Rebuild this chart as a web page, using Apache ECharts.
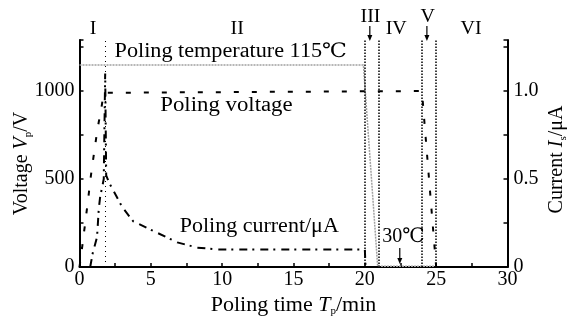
<!DOCTYPE html>
<html><head><meta charset="utf-8">
<script src="https://cdn.jsdelivr.net/npm/echarts@6/dist/echarts.min.js"></script>
<style>html,body{margin:0;padding:0;background:#fff}#c{width:570px;height:320px}</style>
</head><body><div id="c"></div>
<script>
// ---- data ----
const voltageTime   = [0, 0.18, 0.29, 0.41, 0.53, 0.64, 0.76, 0.88, 1.07, 1.18, 1.35, 1.51, 1.7, 1.8, 24, 25];
const voltageValues = [0, 108, 182, 256, 335, 409, 494, 568, 676, 739, 824, 892, 990, 1000, 1000, 0];
const currentTime   = [0.75, 0.93, 1.23, 1.35, 1.45, 1.58, 1.7, 1.8, 1.87, 2.07, 3.0, 3.76, 5.3, 6.85, 8.25, 9.7, 20, 20.05];
const currentValues = [0, 0.08, 0.17, 0.33, 0.40, 0.45, 0.5, 1.1, 0.52, 0.48, 0.34, 0.26, 0.2, 0.14, 0.11, 0.10, 0.10, 0];
const temperatureTime  = [0, 19.9, 20.9, 25];
const temperatureLevel = [1148, 1148, 4, 4];
const phaseBoundaries = [1.8, 20, 21, 24, 25];
const phaseLabels     = ['I', 'II', 'III', 'IV', 'V', 'VI'];
const phaseLabelTime  = [0.95, 11.05, 20.4, 22.2, 24.4, 27.45];
const phaseArrowed    = [false, false, true, false, true, false];
const xTickLabels       = [0, 5, 10, 15, 20, 25, 30];
const voltageTickLabels = [0, 500, 1000];
const currentTickLabels = [0, 0.5, 1.0];

const FONT = '"Liberation Serif", "DejaVu Serif", serif';
const pairs = (xs, ys) => xs.map((x, i) => [x, ys[i]]);
const chart = echarts.init(document.getElementById('c'), null, {renderer: 'canvas'});

const axisCommon = {
  axisLine: {show: true, lineStyle: {color: '#000', width: 2}},
  axisTick: {show: true, inside: true, length: 4, lineStyle: {color: '#000', width: 1.5}},
  splitLine: {show: false},
  nameMoveOverlap: false
};
const nameRich = (size) => ({
  n: {fontFamily: FONT, fontSize: size, color: '#000'},
  i: {fontFamily: FONT, fontSize: size, fontStyle: 'italic', color: '#000'},
  s: {fontFamily: FONT, fontSize: 11, color: '#000', padding: [12, 0, 0, 0]}
});

chart.setOption({
  animation: false,
  backgroundColor: '#fff',
  grid: {left: 79.5, right: 62.5, top: 40, bottom: 53, containLabel: false, outerBoundsMode: 'none'},
  xAxis: Object.assign({
    type: 'value', min: 0, max: 30, interval: 2.5,
    axisLabel: {formatter: v => xTickLabels.includes(v) ? String(v) : '', color: '#000', fontFamily: FONT, fontSize: 20, margin: 3},
    name: '{n|Poling time }{i|T}{s|p}{n|/min}',
    nameLocation: 'middle', nameGap: 27,
    nameTextStyle: {color: '#000', rich: nameRich(22)}
  }, axisCommon),
  yAxis: [
    Object.assign({
      type: 'value', min: 0, max: 1290, interval: 250, position: 'left',
      axisLabel: {formatter: v => voltageTickLabels.includes(v) ? String(v) : '', color: '#000', fontFamily: FONT, fontSize: 20, margin: 5},
      name: '{n|Voltage }{i|V}{s|p}{n|/V}',
      nameLocation: 'middle', nameRotate: 90, nameGap: 46,
      nameTextStyle: {color: '#000', padding: [0, 20, 0, 0], rich: nameRich(20)}
    }, axisCommon),
    Object.assign({
      type: 'value', min: 0, max: 1.29, interval: 0.25, position: 'right',
      axisLabel: {formatter: v => currentTickLabels.includes(v) ? (v === 0 ? '0' : v.toFixed(1)) : '', color: '#000', fontFamily: FONT, fontSize: 20, margin: 6},
      name: '{n|Current }{i|I}{s|s}{n|/μA}',
      nameLocation: 'middle', nameRotate: 90, nameGap: 38,
      nameTextStyle: {color: '#000', padding: [0, 12, 0, 0], rich: nameRich(20)}
    }, axisCommon)
  ],
  series: [
    {
      name: 'Poling temperature', type: 'line', yAxisIndex: 0, symbol: 'none', silent: true,
      data: pairs(temperatureTime, temperatureLevel),
      lineStyle: {color: '#a0a0a0', width: 1.5, type: [2, 1]},
      markLine: {
        silent: true, symbol: 'none', label: {show: false},
        data: phaseBoundaries.map((t, i) => ({xAxis: t,
          lineStyle: {color: '#000', width: i === 0 ? 1 : 1.5, type: i === 0 ? [1, 4] : [1.5, 1.5]}}))
      }
    },
    {
      name: 'Poling voltage', type: 'line', yAxisIndex: 0, symbol: 'none', silent: true,
      data: pairs(voltageTime, voltageValues),
      lineStyle: {color: '#000', width: 2, type: [5, 13]}
    },
    {
      name: 'Poling current', type: 'line', yAxisIndex: 1, symbol: 'none', silent: true,
      data: pairs(currentTime, currentValues),
      lineStyle: {color: '#000', width: 2, type: [8, 5, 2, 6]}
    }
  ]
});

// ---- annotations placed through the axes ----
const px = (t, v) => chart.convertToPixel({gridIndex: 0}, [t, v]);
const graphics = [];
const textAt = (t, v, text, size, sx) => {
  const p = px(t, v);
  graphics.push({type: 'text', x: p[0], y: p[1], scaleX: sx || 1,
    style: {text: text, fill: '#000', font: size + 'px ' + FONT, align: 'center', verticalAlign: 'middle'}});
};
const arrowAt = (t, v1, v2) => {
  const a = px(t, v1), b = px(t, v2);
  graphics.push({type: 'line', shape: {x1: a[0], y1: a[1], x2: b[0], y2: b[1] - 4}, style: {stroke: '#000', lineWidth: 1.2}});
  graphics.push({type: 'polygon', shape: {points: [[b[0] - 2.5, b[1] - 6], [b[0] + 2.5, b[1] - 6], [b[0], b[1]]]}, style: {fill: '#000'}});
};
phaseLabels.forEach((lab, i) => {
  if (phaseArrowed[i]) {
    textAt(phaseLabelTime[i], 1420, lab, 19, 1.05);
    arrowAt(phaseLabelTime[i] - 0.05, 1370, 1285);
  } else {
    textAt(phaseLabelTime[i], 1352, lab, 19, 1.05);
  }
});
textAt(10.6, 1221, 'Poling temperature 115℃', 20, 1.11);
textAt(10.3, 915, 'Poling voltage', 20, 1.14);
textAt(12.6, 227, 'Poling current/μA', 20, 1.1);
textAt(22.7, 170, '30℃', 20, 1.0);
arrowAt(22.45, 108, 17);
chart.setOption({graphic: graphics});
</script>
</body></html>
